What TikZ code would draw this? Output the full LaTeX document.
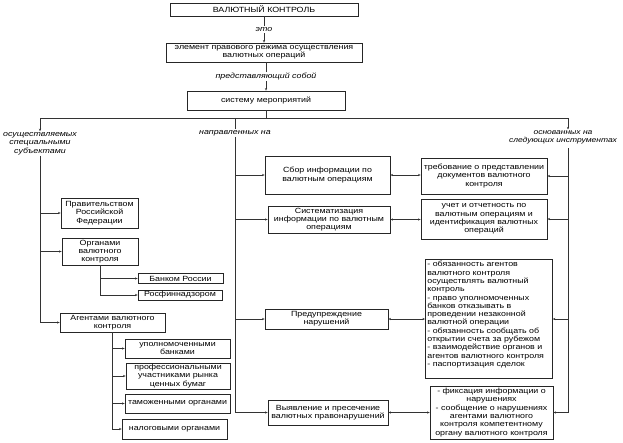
\documentclass[tikz,border=0pt]{standalone}
\usepackage{fontspec}
\setmainfont[FakeStretch=1.18]{Liberation Sans}
\usetikzlibrary{arrows.meta}
\newcommand\myfs{\fontsize{7.5}{8.3}\selectfont}
\tikzset{
  box/.style={draw=black!85, line width=0.7pt, align=center, inner sep=1pt, font=\myfs},
  lbl/.style={font=\myfs\itshape, align=center, fill=white, inner sep=1pt},
  ln/.style={draw=black!80, line width=0.6pt},
  arr/.style={ln, -{Stealth[length=2.6pt,width=2.2pt]}},
  darr/.style={ln, {Stealth[length=2.6pt,width=2.2pt]}-{Stealth[length=2.6pt,width=2.2pt]}}
}
\begin{document}
\begin{tikzpicture}[x=1pt,y=-1pt]
\useasboundingbox (0,0) rectangle (623,442);
% top chain
\node[box, minimum width=188pt, minimum height=13pt] (vk) at (264,9.5) {ВАЛЮТНЫЙ КОНТРОЛЬ};
\node[box, minimum width=196pt, minimum height=19pt] (el) at (264,52.5) {элемент правового режима осуществления\\валютных операций};
\node[box, minimum width=158pt, minimum height=19pt] (sys) at (266,100.5) {систему мероприятий};
\draw[arr] (vk) -- node[lbl]{это} (el);
\draw[arr] (el.south -| sys.north) -- node[lbl]{представляющий собой} (sys);
% junctions
\coordinate (jL) at (40,118);
\coordinate (jM) at (235,118);
\coordinate (jR) at (568,118);
\draw[ln] (sys.south) -- (sys.south |- jL);
\draw[ln] (jL) -- (jR);
% labels
\node[lbl] (subj) at (40,143.5) {осуществляемых\\специальными\\субъектами};
\node[lbl] (napr) at (235,133) {направленных на};
\node[lbl, font=\fontsize{7.2}{8.3}\selectfont\itshape] (osnov) at (563,137.5) {основанных на\\следующих инструментах};
\draw[arr] (jL) -- (subj.north);
\draw[ln] (jM) -- (napr.north);
\draw[arr] (jR) -- (jR |- osnov.north);
% left column
\node[box, minimum width=77pt, minimum height=30pt] (prav) at (99.5,213) {Правительством\\Российской\\Федерации};
\node[box, minimum width=76pt, minimum height=27pt] (org) at (100,251.5) {Органами\\валютного\\контроля};
\node[box, minimum width=85pt, minimum height=10pt] (bank) at (180.5,278.5) {Банком России};
\node[box, minimum width=84pt, minimum height=10pt] (rosfin) at (180,295) {Росфиннадзором};
\node[box, minimum width=105pt, minimum height=19pt] (agent) at (112.5,322.5) {Агентами валютного\\контроля};
\node[box, minimum width=105pt, minimum height=19pt] (upoln) at (177.5,348.5) {уполномоченными\\банками};
\node[box, minimum width=104pt, minimum height=26pt] (prof) at (178,376) {профессиональными\\участниками рынка\\ценных бумаг};
\node[box, minimum width=105pt, minimum height=19pt] (tam) at (177.5,403.5) {таможенными органами};
\node[box, minimum width=105pt, minimum height=20pt] (nal) at (174.5,429) {налоговыми органами};
\draw[arr] (subj.south) |- (agent.west);
\draw[arr] (subj.south |- prav.west) -- (prav.west);
\draw[arr] (subj.south |- org.west) -- (org.west);
\draw[arr] (org.south) |- (bank.west);
\draw[arr] (org.south) |- (rosfin.west);
\draw[arr] (agent.south) |- (upoln.west);
\draw[arr] (agent.south) |- (prof.west);
\draw[arr] (agent.south) |- (tam.west);
\draw[arr] (agent.south) |- (nal.west);
% middle column
\node[box, minimum width=125pt, minimum height=38pt] (sbor) at (327.5,175) {Сбор информации по\\валютным операциям};
\node[box, minimum width=122pt, minimum height=27pt] (sist) at (329,219.5) {Систематизация\\информации по валютным\\операциям};
\node[box, minimum width=123pt, minimum height=20pt] (pred) at (326.5,319) {Предупреждение\\нарушений};
\node[box, minimum width=120pt, minimum height=25pt] (vyyav) at (328,412.5) {Выявление и пресечение\\валютных правонарушений};
\draw[arr] (napr.south) |- (vyyav.west);
\draw[arr] (napr.south |- sbor.west) -- (sbor.west);
\draw[arr] (napr.south |- sist.west) -- (sist.west);
\draw[arr] (napr.south |- pred.west) -- (pred.west);
% right column
\coordinate (rtop) at (568,148);
\node[box, minimum width=126pt, minimum height=36pt] (treb) at (484,176) {требование о представлении\\документов валютного\\контроля};
\node[box, minimum width=126pt, minimum height=40pt] (uchet) at (484,219) {учет и отчетность по\\валютным операциям и\\идентификация валютных\\операций};
\node[box, anchor=north west, inner sep=2pt] (obyaz) at (425,259) {\parbox[t][115pt][t]{123pt}{\raggedright
- обязанность агентов\\
валютного контроля\\
осуществлять валютный\\
контроль\\
- право уполномоченных\\
банков отказывать в\\
проведении незаконной\\
валютной операции\\
- обязанность сообщать об\\
открытии счета за рубежом\\
- взаимодействие органов и\\
агентов валютного контроля\\
- паспортизация сделок}};
\node[box, minimum width=123pt, minimum height=53pt] (fiks) at (491.5,412.5) {- фиксация информации о\\нарушениях\\- сообщение о нарушениях\\агентами валютного\\контроля компетентному\\органу валютного контроля};
\draw[arr] (rtop) |- (fiks.east);
\draw[arr] (rtop |- treb.east) -- (treb.east);
\draw[arr] (rtop |- uchet.east) -- (uchet.east);
\draw[arr] (rtop |- pred.east) -- (pred.east -| obyaz.east);
% double arrows
\draw[darr] (sbor.east) -- (sbor.east -| treb.west);
\draw[darr] (sist.east) -- (sist.east -| uchet.west);
\draw[darr] (pred.east) -- (pred.east -| obyaz.west);
\draw[darr] (vyyav.east) -- (vyyav.east -| fiks.west);
\end{tikzpicture}
\end{document}
